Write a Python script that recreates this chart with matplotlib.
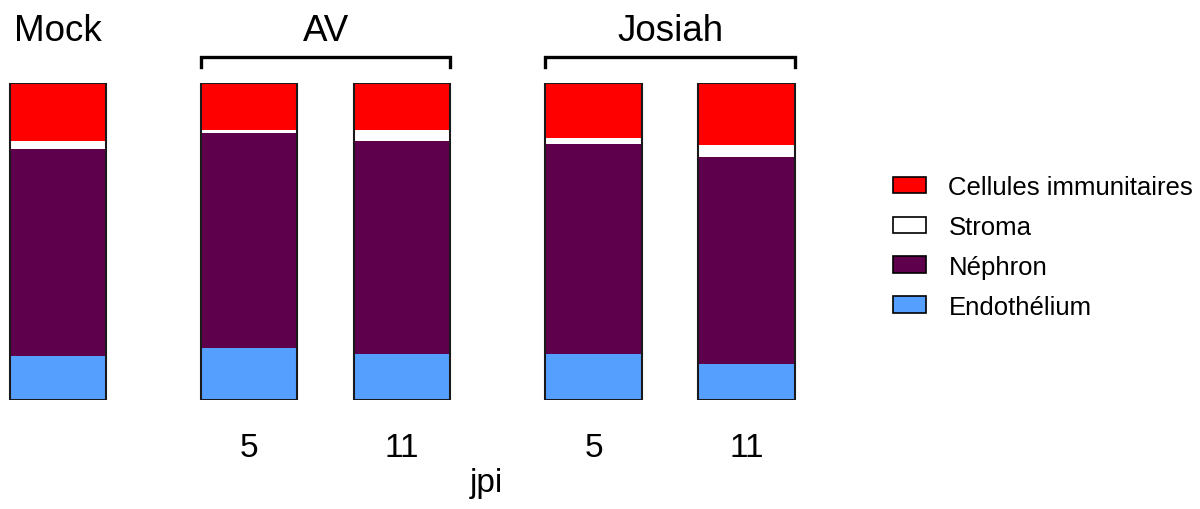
import matplotlib
matplotlib.use("Agg")
import matplotlib.pyplot as plt
from matplotlib.patches import Patch
import numpy as np

plt.rcParams["font.family"] = ["Liberation Sans", "DejaVu Sans"]

# Échantillons : Mock, AV 5 / 11 jpi, Josiah 5 / 11 jpi
echantillons = ["Mock", "AV 5", "AV 11", "Josiah 5", "Josiah 11"]
positions = [0, 1.25, 2.25, 3.5, 4.5]
jpi_labels = ["5", "11", "5", "11"]

# Proportions (%), de bas en haut
endothelium = [14.0, 16.4, 14.4, 14.4, 11.3]
nephron = [65.2, 67.8, 67.2, 66.2, 65.3]
stroma = [2.5, 0.7, 3.3, 1.9, 3.6]
immunitaires = [18.3, 15.1, 15.1, 17.5, 19.8]

COULEURS = {
    "Cellules immunitaires": "#ff0000",
    "Stroma": "#ffffff",
    "Néphron": "#5e004c",
    "Endothélium": "#55a0ff",
}

fig = plt.figure(figsize=(12, 5.1), dpi=100)
ax = fig.add_axes([0.0, 0.2137, 810 / 1200, 0.6225])

largeur = 0.63
bas = np.zeros(len(positions))
for nom, vals in [("Endothélium", endothelium), ("Néphron", nephron),
                  ("Stroma", stroma), ("Cellules immunitaires", immunitaires)]:
    ax.bar(positions, vals, width=largeur, bottom=bas, color=COULEURS[nom],
           edgecolor="none", linewidth=0)
    bas += np.array(vals)

# contour noir de chaque barre
ax.bar(positions, bas, width=largeur, color="none", edgecolor="#1a1a1a", linewidth=1.5)

ax.set_xlim(-58 / 153, 752 / 153)
ax.set_ylim(0, 100)
for s in ax.spines.values():
    s.set_visible(False)
ax.set_xticks([])
ax.set_yticks([])

# étiquettes jpi sous les barres infectées
for x, lab in zip(positions[1:], jpi_labels):
    ax.text(x, -17.7, lab, ha="center", va="baseline", fontsize=24, clip_on=False)
fig.text(486 / 1200, 1 - 492 / 510, "jpi", ha="center", va="baseline", fontsize=24)

# titres et crochets de groupes
ax.text(0, 113.4, "Mock", ha="center", va="baseline", fontsize=26.5, clip_on=False)
for nom, (a, b) in [("AV", (positions[1], positions[2])),
                    ("Josiah", (positions[3], positions[4]))]:
    x0, x1 = a - largeur / 2, b + largeur / 2
    ax.plot([x0, x0, x1, x1], [104.9, 107.9, 107.9, 104.9], color="black",
            linewidth=2.4, clip_on=False, solid_joinstyle="miter")
    ax.text((a + b) / 2, 113.4, nom, ha="center", va="baseline", fontsize=26.5,
            clip_on=False)

poignees = [Patch(facecolor=c, edgecolor="black", linewidth=1.2, label=n)
            for n, c in COULEURS.items()]
fig.legend(handles=poignees, loc="upper left", bbox_to_anchor=(893 / 1200, 1 - 176 / 510),
           frameon=False, fontsize=18.5, handlelength=1.28, handleheight=0.62,
           handletextpad=0.88, labelspacing=0.62, borderaxespad=0, borderpad=0)

fig.savefig("out.png", dpi=100)
